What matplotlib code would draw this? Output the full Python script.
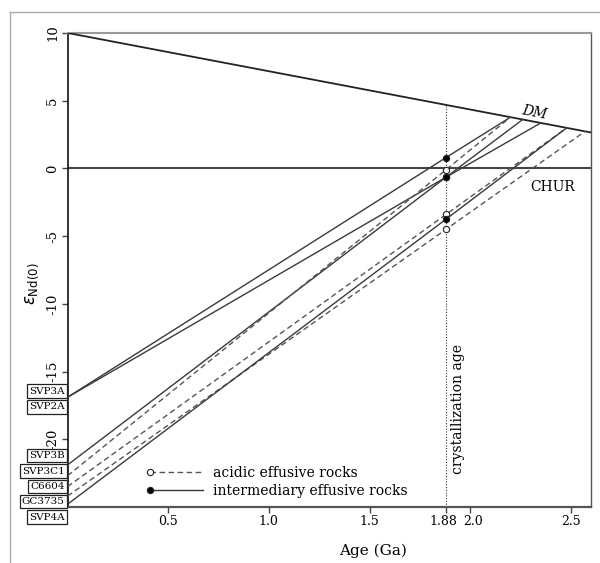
"""
Nd isotope evolution diagram: eNd vs age with DM and CHUR reference lines.
"""

import numpy as np
import matplotlib
matplotlib.use("Agg")
import matplotlib.pyplot as plt
import matplotlib.transforms as mtransforms
from matplotlib.lines import Line2D
from matplotlib.legend_handler import HandlerLine2D

plt.rcParams["font.family"] = ["DejaVu Serif"]
plt.rcParams["axes.unicode_minus"] = False

# depleted mantle reference line
dm_age = [0.0, 2.6]
dm_eps = [10.0, 2.65]

cryst_age = 1.88

# samples: eNd today, eNd at crystallization age, T_DM and eNd on the DM line
samples = ["SVP3A", "SVP2A", "SVP3B", "SVP3C1", "C6604", "GC3735", "SVP4A"]
eps_now = [-16.9, -16.9, -21.9, -22.7, -23.5, -24.2, -24.8]
eps_cryst = [0.8, -0.65, -0.65, -0.1, -3.4, -4.5, -3.75]
t_dm = [2.20, 2.35, 2.26, 2.20, 2.48, 2.57, 2.48]
eps_dm = [3.78, 3.35, 3.6, 3.78, 3.0, 2.73, 3.0]
rock_type = ["intermediary", "intermediary", "intermediary", "acidic",
             "acidic", "acidic", "intermediary"]

# where the sample boxes sit on the left (label layout)
label_pos = [-16.45, -17.6, -21.2, -22.35, -23.5, -24.6, -25.75]

x_ticks = [0.5, 1.0, 1.5, 1.88, 2.0, 2.5]
x_tick_labels = ["0.5", "1.0", "1.5", "1.88", "2.0", "2.5"]
y_ticks = [-20, -15, -10, -5, 0, 5, 10]

styles = {
    "acidic": dict(ls=(0, (4, 2.5)), color="#555555", mfc="white"),
    "intermediary": dict(ls="-", color="#3a3a3a", mfc="black"),
}


class LeftMarker(HandlerLine2D):
    # put the legend marker at the start of the sample line, not in the middle
    def create_artists(self, legend, orig_handle, xdescent, ydescent,
                       width, height, fontsize, trans):
        arts = super().create_artists(legend, orig_handle, xdescent, ydescent,
                                      width, height, fontsize, trans)
        arts[0].set_markevery([0])
        return arts


fig = plt.figure(figsize=(6.0, 5.63), dpi=100)
ax = fig.add_axes([0.1125, 0.0995, 0.8725, 0.842])

# outer frame of the figure panel
fig.add_artist(Line2D([10 / 600, 10 / 600], [0, 1 - 12 / 563], transform=fig.transFigure,
                      color="#aaaaaa", lw=1))
fig.add_artist(Line2D([10 / 600, 1], [1 - 12 / 563, 1 - 12 / 563], transform=fig.transFigure,
                      color="#aaaaaa", lw=1))

ax.plot(dm_age, dm_eps, color="#222222", lw=1.3, zorder=3)
ax.axhline(0, color="#444444", lw=1.5, zorder=2)
ax.plot([cryst_age, cryst_age], [-25, np.interp(cryst_age, dm_age, dm_eps)],
        ls=(0, (1, 1.5)), color="#333333", lw=0.8)

for i, name in enumerate(samples):
    st = styles[rock_type[i]]
    ax.plot([0, cryst_age, t_dm[i]], [eps_now[i], eps_cryst[i], eps_dm[i]],
            ls=st["ls"], color=st["color"], lw=1.0, zorder=4)
for i, name in enumerate(samples):
    st = styles[rock_type[i]]
    ax.plot([cryst_age], [eps_cryst[i]], "o", ms=4.5, mfc=st["mfc"], mec="#222222",
            mew=0.8, zorder=5)
    ax.annotate(name, xy=(0, label_pos[i]), xytext=(-2, 0), textcoords="offset points",
                ha="right", va="center", fontsize=7.5, annotation_clip=False,
                bbox=dict(boxstyle="square,pad=0.22", fc="white", ec="#222222", lw=0.9))

ax.text(2.32, 4.15, "DM", style="italic", fontsize=10, rotation=-11, ha="center", va="center")
ax.text(2.41, -1.35, "CHUR", fontsize=10, ha="center", va="center")
ax.text(1.905, -22.6, "crystallization age", rotation=90, fontsize=10, ha="left", va="bottom")

ax.set_xlim(0, 2.6)
ax.set_ylim(-25, 10)
ax.set_xticks(x_ticks)
ax.set_xticklabels(x_tick_labels)
ax.set_yticks(y_ticks)
ax.tick_params(axis="both", labelsize=9, length=4, width=1, color="#444444", pad=2)
ax.tick_params(axis="y", labelrotation=90, labelsize=9.5)
for lbl in ax.get_yticklabels():
    lbl.set_va("center")

# keep "1.88" and "2.0" apart
xlabels = ax.get_xticklabels()
for lbl, dx in ((xlabels[3], -2), (xlabels[4], 2)):
    lbl.set_transform(lbl.get_transform() +
                      mtransforms.ScaledTranslation(dx / 72, 0, fig.dpi_scale_trans))

ax.set_xlabel("Age (Ga)", fontsize=11)
ax.xaxis.set_label_coords(0.584, -0.078)
ax.set_ylabel(r"$\varepsilon_{\mathrm{Nd(0)}}$", fontsize=12)
ax.yaxis.set_label_coords(-0.05, 0.47)

ax.spines["left"].set_color("#111111")
ax.spines["left"].set_linewidth(1.2)
ax.spines["bottom"].set_color("#555555")
ax.spines["bottom"].set_linewidth(1.6)
ax.spines["top"].set_color("#999999")
ax.spines["top"].set_linewidth(1.5)
ax.spines["right"].set_color("#555555")
ax.spines["right"].set_linewidth(1.0)

handles = [
    Line2D([], [], ls=styles["acidic"]["ls"], color="#555555", lw=1.0, marker="o", ms=4.5,
           mfc="white", mec="#222222", mew=0.8),
    Line2D([], [], ls="-", color="#3a3a3a", lw=1.0, marker="o", ms=4.5,
           mfc="black", mec="#222222", mew=0.8),
]
ax.legend(handles, ["acidic effusive rocks", "intermediary effusive rocks"],
          handler_map={Line2D: LeftMarker()}, loc="lower left",
          bbox_to_anchor=(0.158, 0.02), frameon=False, fontsize=10,
          handlelength=3.8, handletextpad=0.7, labelspacing=0.25,
          borderpad=0, borderaxespad=0)

fig.savefig("out.png", dpi=100)
